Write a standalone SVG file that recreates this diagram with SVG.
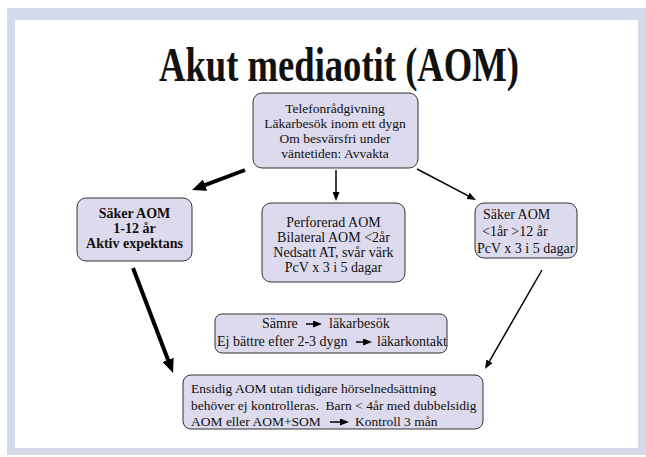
<svg xmlns="http://www.w3.org/2000/svg" width="646" height="457" viewBox="0 0 646 457">
<style>
.box{fill:#dcdaec;stroke:#333;stroke-width:1}
.t{font-family:"Liberation Serif","Times New Roman",serif;font-size:14px;fill:#111}
.s{font-size:13.5px}
.c{text-anchor:middle}
.b{font-weight:bold}
.thick{stroke:#000;stroke-width:4;fill:none}
.thin{stroke:#000;stroke-width:1.5;fill:none}
</style>
<defs>
<marker id="hBig" viewBox="0 0 14 12" refX="6" refY="6" markerWidth="14" markerHeight="12" markerUnits="userSpaceOnUse" orient="auto"><path d="M0,0 L14,6 L0,12 z" fill="#000"/></marker>
<marker id="hSm" viewBox="0 0 9 7" refX="4" refY="3.5" markerWidth="9" markerHeight="7" markerUnits="userSpaceOnUse" orient="auto"><path d="M0,0 L9,3.5 L0,7 z" fill="#000"/></marker>
</defs>
<rect x="0" y="0" width="646" height="457" fill="#fff"/>
<rect x="7" y="8" width="639" height="447" fill="#d3d9e8"/>
<rect x="15" y="20" width="623" height="428" fill="#fff"/>
<text x="339" y="81" class="t b c" style="font-size:48px" textLength="360" lengthAdjust="spacingAndGlyphs">Akut mediaotit (AOM)</text>

<g id="connectors">
<line class="thick" x1="245" y1="170" x2="199.5" y2="187.2" marker-end="url(#hBig)"/>
<line class="thick" x1="133" y1="268" x2="170.2" y2="365.5" marker-end="url(#hBig)"/>
<line class="thin" x1="336" y1="170" x2="336" y2="196" marker-end="url(#hSm)"/>
<line class="thin" x1="417" y1="169" x2="471.6" y2="197.7" marker-end="url(#hSm)"/>
<line class="thin" x1="542" y1="270" x2="487.5" y2="364.7" marker-end="url(#hSm)"/>
</g>

<g id="n-telefon">
<rect class="box" x="253" y="93" width="165" height="75" rx="9"/>
<text class="t s c" x="335" y="113">Telefonrådgivning</text>
<text class="t s c" x="335" y="128">Läkarbesök inom ett dygn</text>
<text class="t s c" x="335" y="143">Om besvärsfri under</text>
<text class="t s c" x="335" y="158">väntetiden: Avvakta</text>
</g>

<g id="n-saker-1-12">
<rect class="box" x="77" y="198" width="115" height="63" rx="9"/>
<text class="t b c" x="134.5" y="218">Säker AOM</text>
<text class="t b c" x="134.5" y="233">1-12 år</text>
<text class="t b c" x="134.5" y="248">Aktiv expektans</text>
</g>

<g id="n-perforerad">
<rect class="box" x="262" y="203" width="143" height="79" rx="9"/>
<text class="t c" x="333.5" y="227">Perforerad AOM</text>
<text class="t c" x="333.5" y="242">Bilateral AOM &lt;2år</text>
<text class="t c" x="333.5" y="257">Nedsatt AT, svår värk</text>
<text class="t c" x="333.5" y="272">PcV x 3 i 5 dagar</text>
</g>

<g id="n-saker-other">
<rect class="box" x="475" y="203" width="102" height="55" rx="9"/>
<text class="t" x="483" y="219">Säker AOM</text>
<text class="t" x="482" y="236">&lt;1år &gt;12 år</text>
<text class="t" x="477" y="253">PcV x 3 i 5 dagar</text>
</g>

<g id="n-samre">
<rect class="box" x="215" y="314" width="232" height="39" rx="7"/>
<text class="t" x="262" y="328">Sämre</text>
<line class="thin" x1="306" y1="324" x2="317" y2="324" marker-end="url(#hSm)"/>
<text class="t" x="329" y="328">läkarbesök</text>
<text class="t" x="217" y="346">Ej bättre efter 2-3 dygn</text>
<line class="thin" x1="356" y1="342" x2="367" y2="342" marker-end="url(#hSm)"/>
<text class="t" x="377" y="346">läkarkontakt</text>
</g>

<g id="n-ensidig">
<rect class="box" x="183" y="375" width="300" height="54" rx="8"/>
<text class="t s" x="191" y="393">Ensidig AOM utan tidigare hörselnedsättning</text>
<text class="t s" x="191" y="410" xml:space="preserve">behöver ej kontrolleras.  Barn &lt; 4år med dubbelsidig</text>
<text class="t s" x="191" y="426">AOM eller AOM+SOM</text>
<line class="thin" x1="330" y1="422" x2="344" y2="422" marker-end="url(#hSm)"/>
<text class="t s" x="355" y="426">Kontroll 3 mån</text>
</g>
</svg>
